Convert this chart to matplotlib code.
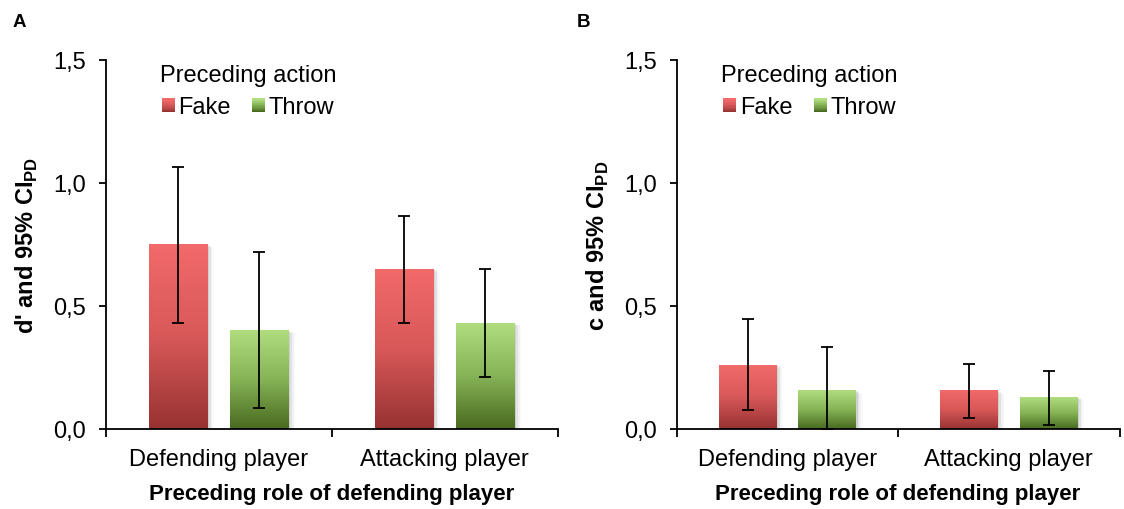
import numpy as np
import matplotlib
matplotlib.use("Agg")
import matplotlib.pyplot as plt
from matplotlib.colors import LinearSegmentedColormap
from matplotlib.patches import Rectangle
from matplotlib.legend_handler import HandlerBase
from matplotlib.transforms import ScaledTranslation
from matplotlib.ticker import FuncFormatter

plt.rcParams['font.family'] = ['Liberation Sans', 'DejaVu Sans']
plt.rcParams['mathtext.fontset'] = 'custom'
plt.rcParams['mathtext.rm'] = 'Liberation Sans'
plt.rcParams['mathtext.bf'] = 'Liberation Sans:bold'

# datos
roles = ["Defending player", "Attacking player"]
actions = ["Fake", "Throw"]

d_fake = [0.75, 0.65]
d_fake_lo = [0.43, 0.43]
d_fake_hi = [1.065, 0.865]
d_throw = [0.40, 0.43]
d_throw_lo = [0.085, 0.21]
d_throw_hi = [0.72, 0.65]

c_fake = [0.26, 0.155]
c_fake_lo = [0.075, 0.045]
c_fake_hi = [0.445, 0.265]
c_throw = [0.155, 0.13]
c_throw_lo = [0.0, 0.015]
c_throw_hi = [0.335, 0.235]

yticks = [0.0, 0.5, 1.0, 1.5]

red_cmap = LinearSegmentedColormap.from_list("red", ["#973232", "#d85858", "#f26a6a"])
green_cmap = LinearSegmentedColormap.from_list("green", ["#486a20", "#86b356", "#b0dd7e"])
grad = np.linspace(0, 1, 256).reshape(-1, 1)


class GradientHandler(HandlerBase):
    def __init__(self, cmap):
        super().__init__()
        self.cmap = cmap

    def create_artists(self, legend, orig_handle, xdescent, ydescent,
                       width, height, fontsize, trans):
        n = 12
        artists = []
        side = min(width, height)
        for i in range(n):
            r = Rectangle((-xdescent, -ydescent + side * i / n), side, side / n + 0.3,
                          facecolor=self.cmap(i / (n - 1)), edgecolor='none',
                          transform=trans)
            artists.append(r)
        return artists


def gradient_bars(ax, xs, vals, width, cmap):
    fig = ax.figure
    for x, v in zip(xs, vals):
        # sombra suave a la derecha
        for k, a in zip(range(1, 5), [0.18, 0.12, 0.07, 0.04]):
            off = ScaledTranslation(k * 1.2 / 72, -k * 0.5 / 72, fig.dpi_scale_trans)
            ax.add_patch(Rectangle((x - width / 2, 0), width, v, facecolor='#808080',
                                   edgecolor='none', alpha=a, zorder=1,
                                   transform=ax.transData + off))
        ax.imshow(grad, extent=[x - width / 2, x + width / 2, 0, v], origin='lower',
                  aspect='auto', cmap=cmap, zorder=2, interpolation='bilinear')


def panel(ax, fake, fake_lo, fake_hi, throw, throw_lo, throw_hi, ylabel, leg_x):
    x = np.arange(len(roles))
    w = 0.26
    off = 0.18
    gradient_bars(ax, x - off, fake, w, red_cmap)
    gradient_bars(ax, x + off, throw, w, green_cmap)
    for xs, v, lo, hi in [(x - off, fake, fake_lo, fake_hi), (x + off, throw, throw_lo, throw_hi)]:
        v = np.array(v)
        yerr = [v - np.array(lo), np.array(hi) - v]
        ax.errorbar(xs, v, yerr=yerr, fmt='none', ecolor='black', elinewidth=1.3,
                    capsize=4, capthick=1.3, zorder=4)

    ax.set_xlim(-0.5, 1.5)
    ax.set_ylim(0, 1.5)
    ax.set_yticks(yticks)
    ax.yaxis.set_major_formatter(FuncFormatter(lambda v, p: f"{v:.1f}".replace(".", ",")))
    ax.set_xticks(x)
    ax.set_xticklabels(roles)
    ax.set_xticks([-0.5, 0.5, 1.5], minor=True)
    ax.tick_params(axis='x', which='major', length=0, pad=14, labelsize=17)
    ax.tick_params(axis='x', which='minor', length=6, width=1.3, direction='out')
    ax.tick_params(axis='y', length=5, width=1.3, pad=9, labelsize=17)
    for s in ['top', 'right']:
        ax.spines[s].set_visible(False)
    for s in ['left', 'bottom']:
        ax.spines[s].set_linewidth(1.3)
    ax.set_xlabel("Preceding role of defending player", fontsize=16, fontweight='bold', labelpad=9)
    ax.set_ylabel(ylabel, fontsize=17, fontweight='bold', labelpad=10)

    handles = [Rectangle((0, 0), 1, 1), Rectangle((0, 0), 1, 1)]
    leg = ax.legend(handles, actions, title="Preceding action", ncol=2, frameon=False,
                    loc='upper center', bbox_to_anchor=(leg_x, 1.02), fontsize=17,
                    title_fontsize=17, handlelength=0.55, handleheight=0.55,
                    handletextpad=0.15, columnspacing=0.9, borderpad=0, labelspacing=0.2,
                    handler_map={handles[0]: GradientHandler(red_cmap),
                                 handles[1]: GradientHandler(green_cmap)})
    leg._legend_box.sep = 7


fig = plt.figure(figsize=(11.24, 5.10), dpi=100)
ax1 = fig.add_axes([0.094, 0.157, 0.402, 0.7235])
ax2 = fig.add_axes([0.602, 0.157, 0.394, 0.7235])

panel(ax1, d_fake, d_fake_lo, d_fake_hi, d_throw, d_throw_lo, d_throw_hi,
      "d' and 95% CI$_\\mathbf{PD}$", 0.315)
panel(ax2, c_fake, c_fake_lo, c_fake_hi, c_throw, c_throw_lo, c_throw_hi,
      "c and 95% CI$_\\mathbf{PD}$", 0.30)

fig.text(0.011, 0.955, "A", fontsize=13.5, fontweight='bold', va='center')
fig.text(0.513, 0.955, "B", fontsize=13.5, fontweight='bold', va='center')

fig.savefig("out.png", dpi=100)
